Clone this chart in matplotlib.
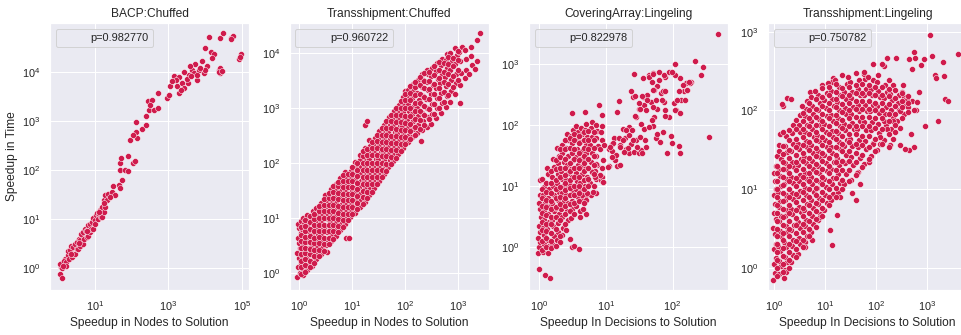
import numpy as np
import matplotlib
matplotlib.use("Agg")
import matplotlib.pyplot as plt
import seaborn as sns
from matplotlib.lines import Line2D
from matplotlib.ticker import FixedLocator

# ---- data (log10 of the speedups) ----
titles = ["BACP:Chuffed", "Transshipment:Chuffed",
          "CoveringArray:Lingeling", "Transshipment:Lingeling"]
xlabels = ["Speedup in Nodes to Solution", "Speedup in Nodes to Solution",
           "Speedup In Decisions to Solution", "Speedup In Decisions to Solution"]
ylabel = "Speedup in Time"
p_labels = ["p=0.982770", "p=0.960722", "p=0.822978", "p=0.750782"]

bacp_chuffed = [
    (0.04, -0.12), (0.09, -0.20), (0.07, 0.03), (0.11, 0.10), (0.05, 0.08), (0.10, 0.00),
    (0.18, 0.20), (0.15, 0.15), (0.22, 0.13), (0.20, 0.05), (0.27, 0.27), (0.25, 0.35),
    (0.32, 0.37), (0.30, 0.20), (0.36, 0.23), (0.35, 0.45), (0.41, 0.43), (0.40, 0.30),
    (0.45, 0.30), (0.45, 0.50), (0.50, 0.54), (0.50, 0.40), (0.54, 0.40), (0.55, 0.60),
    (0.59, 0.57), (0.60, 0.45), (0.64, 0.67), (0.62, 0.70), (0.68, 0.50), (0.68, 0.74),
    (0.70, 0.60), (0.73, 0.81), (0.75, 0.75), (0.77, 0.64), (0.80, 0.65), (0.82, 0.88),
    (0.85, 0.90), (0.86, 0.74), (0.90, 0.80), (0.91, 0.95), (0.95, 0.81), (0.95, 1.02),
    (1.00, 0.98), (1.00, 0.90), (1.02, 1.08), (1.05, 1.12), (1.09, 1.01), (1.10, 1.10),
    (1.14, 1.18), (1.15, 1.05), (1.18, 1.05), (1.20, 1.25), (1.23, 1.15), (1.27, 1.25),
    (1.23, 1.39), (1.27, 1.49), (1.32, 1.39), (1.36, 1.52), (1.46, 1.56), (1.55, 1.49),
    (1.48, 1.67), (1.64, 1.69), (1.68, 1.63), (1.73, 1.80), (1.68, 2.00), (1.82, 2.00),
    (1.91, 1.97), (1.68, 2.15), (1.71, 2.24), (1.89, 2.29), (2.03, 2.15), (2.10, 2.19),
    (1.96, 2.61), (2.15, 2.65), (2.12, 2.78), (2.03, 2.71), (2.12, 2.97), (2.27, 2.83),
    (2.38, 2.92), (2.40, 3.09), (2.44, 3.41), (2.55, 3.43), (2.46, 3.22), (2.60, 3.22),
    (2.73, 3.26), (2.72, 3.56), (2.51, 3.33), (2.95, 3.46), (3.01, 3.53), (3.05, 3.70),
    (3.15, 3.92), (3.28, 3.90), (3.24, 3.70), (3.38, 3.77), (3.28, 3.56), (3.42, 3.67),
    (3.56, 3.94), (3.65, 4.04), (3.74, 4.16), (3.79, 3.84), (3.92, 4.21), (3.96, 3.97),
    (4.01, 4.48), (4.06, 4.11), (4.15, 4.41), (4.24, 4.35), (4.20, 4.28), (4.10, 4.71),
    (4.38, 4.04), (4.42, 4.07), (4.40, 3.97), (4.42, 4.69), (4.50, 4.78), (4.70, 4.69),
    (4.77, 4.73), (4.93, 4.26), (4.97, 4.35), (3.69, 3.97), (3.60, 4.11), (3.83, 4.04),
    (3.53, 3.77), (3.79, 3.94), (4.01, 4.04), (3.35, 3.63), (3.22, 3.84), (3.09, 3.82),
    (3.42, 4.00), (4.38, 4.00), (4.45, 4.02), (4.95, 4.30), (4.72, 4.66), (3.50, 3.85),
    (3.62, 3.92), (3.87, 4.08), (0.13, 0.05), (0.33, 0.30), (0.57, 0.52), (0.79, 0.75),
    (1.12, 1.15), (1.25, 1.32), (1.40, 1.45),
]

transship_chuffed = [
    (-0.03, -0.08), (0.02, 0.00), (-0.02, 0.10), (0.03, 0.18), (0.00, 0.27), (-0.03, 0.36),
    (0.02, 0.45), (0.00, 0.55), (-0.02, 0.64), (0.03, 0.72), (0.00, 0.82), (-0.02, 0.90), (0.04, 0.95),
    (0.08, -0.03), (0.07, 0.08), (0.10, 0.17), (0.06, 0.30), (0.09, 0.40), (0.07, 0.50),
    (0.10, 0.60), (0.08, 0.70), (0.06, 0.80), (0.10, 0.90), (0.08, 1.00),
    (0.15, 0.05), (0.17, 0.15), (0.16, 0.25), (0.14, 0.35), (0.18, 0.46), (0.16, 0.56),
    (0.15, 0.66), (0.17, 0.77), (0.16, 0.88), (0.18, 0.98), (0.15, 1.06),
    (0.24, 0.12), (0.26, 0.24), (0.25, 0.36), (0.23, 0.47), (0.27, 0.58), (0.24, 0.69),
    (0.26, 0.80), (0.25, 0.92), (0.23, 1.02), (0.27, 1.12),
    (0.33, 0.25), (0.35, 0.36), (0.34, 0.48), (0.32, 0.60), (0.36, 0.71), (0.33, 0.82),
    (0.35, 0.94), (0.34, 1.05), (0.33, 1.18),
    (0.42, 0.34), (0.44, 0.46), (0.43, 0.58), (0.41, 0.70), (0.45, 0.82), (0.42, 0.93),
    (0.44, 1.05), (0.43, 1.17), (0.42, 1.28),
    (0.53, 0.39), (0.51, 0.50), (0.53, 0.62), (0.52, 0.74), (0.50, 0.86), (0.54, 0.98),
    (0.52, 1.10), (0.51, 1.22), (0.53, 1.33), (0.50, 1.42),
    (0.60, 0.58), (0.62, 0.70), (0.61, 0.82), (0.59, 0.94), (0.63, 1.06), (0.60, 1.18),
    (0.62, 1.30), (0.61, 1.42), (0.60, 1.52),
    (0.69, 0.68), (0.71, 0.80), (0.70, 0.92), (0.68, 1.04), (0.72, 1.16), (0.69, 1.28),
    (0.71, 1.40), (0.70, 1.52), (0.69, 1.62),
    (0.78, 0.78), (0.80, 0.90), (0.79, 1.02), (0.77, 1.14), (0.81, 1.26), (0.78, 1.38),
    (0.80, 1.50), (0.79, 1.62), (0.78, 1.72),
    (0.88, 0.63), (0.95, 0.64), (0.87, 0.90), (0.89, 1.02), (0.88, 1.14), (0.86, 1.26),
    (0.90, 1.38), (0.87, 1.50), (0.89, 1.62), (0.88, 1.74), (0.87, 1.84),
    (0.97, 1.02), (0.99, 1.14), (0.98, 1.26), (0.96, 1.38), (1.00, 1.50), (0.97, 1.62),
    (0.99, 1.74), (0.98, 1.86),
    (1.06, 1.10), (1.08, 1.22), (1.07, 1.34), (1.05, 1.46), (1.09, 1.58), (1.06, 1.70),
    (1.08, 1.82), (1.07, 1.95), (1.05, 2.02),
    (1.15, 1.20), (1.17, 1.32), (1.16, 1.44), (1.14, 1.56), (1.18, 1.68), (1.15, 1.80),
    (1.17, 1.92), (1.16, 2.05), (1.15, 2.14),
    (1.25, 2.69), (1.28, 2.76), (1.24, 1.30), (1.26, 1.42), (1.25, 1.55), (1.23, 1.68),
    (1.27, 1.81), (1.24, 1.94), (1.26, 2.07), (1.25, 2.20), (1.24, 2.28),
    (1.33, 1.42), (1.35, 1.55), (1.34, 1.68), (1.32, 1.81), (1.36, 1.94), (1.33, 2.07),
    (1.35, 2.20), (1.34, 2.32), (1.33, 2.42),
    (1.42, 1.55), (1.44, 1.68), (1.43, 1.81), (1.41, 1.94), (1.45, 2.07), (1.42, 2.20),
    (1.44, 2.33), (1.43, 2.46),
    (1.51, 1.68), (1.53, 1.81), (1.52, 1.94), (1.50, 2.07), (1.54, 2.20), (1.51, 2.33),
    (1.53, 2.46), (1.52, 2.58),
    (1.60, 1.80), (1.62, 1.93), (1.61, 2.06), (1.59, 2.19), (1.63, 2.32), (1.60, 2.45),
    (1.62, 2.58), (1.61, 2.70),
    (1.69, 1.92), (1.71, 2.05), (1.70, 2.18), (1.68, 2.31), (1.72, 2.44), (1.69, 2.57),
    (1.71, 2.70), (1.70, 2.83),
    (1.78, 2.04), (1.80, 2.17), (1.79, 2.30), (1.77, 2.43), (1.81, 2.56), (1.78, 2.69),
    (1.80, 2.82), (1.79, 2.95),
    (1.87, 2.16), (1.89, 2.29), (1.88, 2.42), (1.86, 2.55), (1.90, 2.68), (1.87, 2.81),
    (1.89, 2.94), (1.88, 3.06),
    (1.96, 2.28), (1.98, 2.41), (1.97, 2.54), (1.95, 2.67), (1.99, 2.80), (1.96, 2.93),
    (1.98, 3.06), (1.97, 3.20), (2.00, 3.32),
    (2.05, 2.38), (2.07, 2.52), (2.06, 2.66), (2.04, 2.80), (2.08, 2.94), (2.05, 3.08),
    (2.07, 3.22), (2.06, 3.33),
    (2.14, 2.47), (2.16, 2.62), (2.15, 2.76), (2.13, 2.90), (2.17, 3.04), (2.14, 3.18),
    (2.16, 3.32), (2.15, 3.44),
    (2.23, 2.55), (2.25, 2.70), (2.24, 2.85), (2.22, 3.00), (2.26, 3.14), (2.23, 3.28),
    (2.25, 3.42), (2.24, 3.52),
    (2.30, 2.40), (2.32, 2.60), (2.34, 2.76), (2.33, 2.92), (2.31, 3.08), (2.35, 3.23),
    (2.32, 3.38), (2.34, 3.52), (2.33, 3.62),
    (2.41, 2.66), (2.43, 2.83), (2.42, 3.00), (2.40, 3.17), (2.44, 3.33), (2.41, 3.48),
    (2.43, 3.62), (2.42, 3.70),
    (2.50, 2.72), (2.52, 2.90), (2.51, 3.08), (2.49, 3.26), (2.53, 3.43), (2.50, 3.58), (2.52, 3.73),
    (2.59, 2.82), (2.61, 3.00), (2.60, 3.18), (2.58, 3.36), (2.62, 3.53), (2.59, 3.68), (2.61, 3.82),
    (2.68, 2.92), (2.70, 3.10), (2.69, 3.28), (2.67, 3.46), (2.71, 3.62), (2.68, 3.78), (2.70, 3.90),
    (2.77, 3.02), (2.79, 3.22), (2.78, 3.40), (2.76, 3.57), (2.80, 3.73), (2.77, 3.88), (2.79, 3.98),
    (2.86, 3.12), (2.88, 3.32), (2.87, 3.52), (2.85, 3.70), (2.89, 3.86), (2.86, 4.00),
    (2.95, 3.25), (2.97, 3.45), (2.96, 3.62), (2.94, 3.80), (2.98, 3.96), (2.95, 4.10),
    (3.05, 3.10), (3.04, 3.42), (3.06, 3.64), (3.05, 3.85), (3.03, 4.02), (3.07, 4.12),
    (3.14, 3.55), (3.16, 3.70), (3.15, 3.90), (3.13, 4.05),
    (3.22, 3.62), (3.26, 3.78), (3.25, 3.95), (3.24, 4.12),
    (3.32, 3.72), (3.37, 4.24), (3.42, 4.36), (3.36, 3.85),
]

# extra points of the dense band, grouped by column: (log10 x, [log10 y, ...])
transship_chuffed_fill = [
    (0.04, [-0.02, 0.10, 0.22, 0.34, 0.46, 0.58, 0.70, 0.84]),
    (0.12, [0.02, 0.14, 0.26, 0.36, 0.46, 0.56, 0.66, 0.76, 0.86, 0.96]),
    (0.20, [0.10, 0.22, 0.34, 0.44, 0.56, 0.68, 0.80, 0.92, 1.04]),
    (0.29, [0.18, 0.30, 0.42, 0.54, 0.64, 0.76, 0.88, 0.98, 1.08]),
    (0.38, [0.30, 0.42, 0.54, 0.66, 0.76, 0.88, 1.00, 1.12, 1.22]),
    (0.47, [0.40, 0.52, 0.64, 0.76, 0.88, 1.00, 1.12, 1.24, 1.34]),
    (0.56, [0.52, 0.64, 0.76, 0.88, 1.00, 1.12, 1.24, 1.36, 1.46]),
    (0.65, [0.62, 0.76, 0.88, 1.00, 1.12, 1.24, 1.36, 1.48, 1.58]),
    (0.74, [0.74, 0.86, 0.98, 1.10, 1.22, 1.34, 1.46, 1.58, 1.66]),
    (0.83, [0.84, 0.96, 1.08, 1.20, 1.32, 1.44, 1.56, 1.68, 1.78]),
    (0.92, [0.96, 1.08, 1.20, 1.32, 1.44, 1.56, 1.68, 1.80]),
    (1.01, [1.08, 1.20, 1.32, 1.44, 1.56, 1.68, 1.80, 1.92]),
    (1.10, [1.16, 1.28, 1.40, 1.52, 1.64, 1.76, 1.88, 2.00]),
    (1.20, [1.26, 1.38, 1.50, 1.62, 1.75, 1.88, 2.00, 2.12, 2.22]),
    (1.29, [1.36, 1.48, 1.62, 1.75, 1.88, 2.00, 2.14, 2.26]),
    (1.38, [1.48, 1.62, 1.75, 1.88, 2.01, 2.14, 2.27, 2.38]),
    (1.47, [1.62, 1.75, 1.88, 2.01, 2.14, 2.27, 2.40, 2.52]),
    (1.56, [1.74, 1.87, 2.00, 2.13, 2.26, 2.39, 2.52, 2.64]),
    (1.65, [1.86, 1.99, 2.12, 2.25, 2.38, 2.51, 2.64, 2.76]),
    (1.74, [1.98, 2.11, 2.24, 2.37, 2.50, 2.63, 2.76, 2.88]),
    (1.83, [2.10, 2.23, 2.36, 2.49, 2.62, 2.75, 2.88, 3.00]),
    (1.92, [2.22, 2.35, 2.48, 2.61, 2.74, 2.87, 3.00, 3.13]),
    (2.01, [2.34, 2.47, 2.60, 2.73, 2.86, 3.00, 3.14, 3.26]),
    (2.10, [2.44, 2.58, 2.72, 2.86, 3.00, 3.14, 3.28, 3.40]),
    (2.19, [2.52, 2.66, 2.80, 2.95, 3.10, 3.24, 3.38, 3.48]),
    (2.28, [2.62, 2.78, 2.94, 3.10, 3.26, 3.42, 3.56]),
    (2.37, [2.70, 2.88, 3.04, 3.20, 3.36, 3.50, 3.64]),
    (2.46, [2.80, 2.98, 3.16, 3.34, 3.50, 3.66]),
    (2.55, [2.90, 3.08, 3.26, 3.44, 3.60, 3.76]),
    (2.64, [3.00, 3.18, 3.36, 3.54, 3.70, 3.84]),
    (2.73, [3.12, 3.30, 3.48, 3.66, 3.82]),
    (2.82, [3.24, 3.44, 3.62, 3.80, 3.94]),
    (2.91, [3.38, 3.58, 3.76, 3.92]),
    (3.00, [3.52, 3.70, 3.88, 4.04]),
]

covering_lingeling = [
    (0.00, -0.35), (0.09, -0.46), (0.16, -0.50),
    (-0.02, -0.10), (0.00, 0.00), (0.02, 0.08), (-0.01, 0.15), (0.01, 0.25), (0.00, 0.35),
    (0.03, 0.50), (0.01, 0.62), (0.00, 0.73), (0.02, 0.85), (0.01, 1.10), (0.04, 1.12),
    (0.06, -0.08), (0.08, 0.05), (0.07, 0.20), (0.06, 0.32), (0.08, 0.45), (0.07, 0.60),
    (0.09, 0.72), (0.06, 0.85), (0.08, 0.98),
    (0.13, -0.10), (0.15, 0.02), (0.14, 0.12), (0.12, 0.30), (0.15, 0.42), (0.14, 0.55),
    (0.16, 0.68), (0.13, 0.80), (0.15, 0.95), (0.14, 1.20), (0.12, 1.30),
    (0.20, 0.05), (0.22, 0.18), (0.21, 0.35), (0.19, 0.45), (0.23, 0.60), (0.20, 0.72),
    (0.22, 0.85), (0.21, 1.00), (0.20, 1.15), (0.22, 1.32), (0.21, 1.45),
    (0.27, 0.12), (0.29, 0.25), (0.28, 0.40), (0.30, 0.55), (0.26, 0.65), (0.28, 0.78),
    (0.30, 0.90), (0.27, 1.05), (0.29, 1.20), (0.28, 1.38), (0.30, 1.50), (0.27, 1.62),
    (0.34, 0.20), (0.36, 0.32), (0.35, 0.50), (0.33, 0.62), (0.37, 0.75), (0.34, 0.88),
    (0.36, 1.00), (0.35, 1.12), (0.33, 1.25), (0.37, 1.40), (0.35, 1.55), (0.34, 1.68),
    (0.41, 0.28), (0.43, 0.45), (0.42, 0.60), (0.44, 0.72), (0.40, 0.85), (0.43, 0.98),
    (0.41, 1.10), (0.44, 1.22), (0.42, 1.35), (0.43, 1.50), (0.41, 1.62), (0.44, 1.75), (0.42, 1.86),
    (0.49, 0.00), (0.52, 0.02), (0.48, 0.48), (0.50, 0.62), (0.49, 0.75), (0.51, 0.90),
    (0.47, 1.02), (0.50, 1.15), (0.48, 1.28), (0.51, 1.42), (0.49, 1.55), (0.50, 1.70),
    (0.48, 1.82), (0.51, 1.92),
    (0.56, 0.68), (0.58, 0.82), (0.55, 0.95), (0.57, 1.08), (0.56, 1.22), (0.58, 1.35),
    (0.55, 1.48), (0.57, 1.60), (0.56, 1.75), (0.58, 1.88), (0.55, 1.98),
    (0.62, 0.60), (0.64, 0.78), (0.63, 0.92), (0.62, 1.05), (0.65, 1.20), (0.63, 1.32),
    (0.61, 1.45), (0.64, 1.58), (0.62, 1.72), (0.65, 1.85), (0.63, 1.95),
    (0.70, 0.55), (0.71, 0.85), (0.69, 1.00), (0.72, 1.15), (0.70, 1.30), (0.68, 1.42),
    (0.71, 1.55), (0.70, 1.68), (0.72, 1.80), (0.69, 1.92), (0.71, 2.02),
    (0.78, 0.85), (0.77, 1.05), (0.79, 1.25), (0.78, 1.40), (0.80, 1.55), (0.77, 1.68),
    (0.79, 1.80), (0.78, 1.95), (0.80, 2.05),
    (0.86, 0.88), (0.85, 1.12), (0.87, 1.35), (0.86, 1.50), (0.88, 1.65), (0.85, 1.78),
    (0.87, 1.90), (0.86, 2.00),
    (0.93, 1.10), (0.95, 1.30), (0.92, 1.60), (0.94, 1.75), (0.93, 1.88), (0.95, 1.98),
    (0.60, -0.03), (0.62, 0.50), (0.46, 0.14), (0.32, 0.09), (0.65, 0.85), (0.72, 0.89),
    (0.81, 0.91), (0.84, 1.24), (0.94, 1.15), (0.96, 1.07), (1.05, 1.33), (1.14, 1.43),
    (1.17, 1.33), (1.22, 1.34), (1.35, 1.54), (1.42, 1.56), (1.50, 1.55), (1.91, 1.55),
    (0.49, 2.19), (0.69, 2.22), (0.90, 2.33), (0.95, 2.16), (1.17, 2.22), (1.20, 2.40),
    (1.42, 2.84), (0.98, 1.67), (1.05, 1.61), (1.10, 1.58), (1.10, 1.69), (1.12, 1.78),
    (1.20, 1.78), (1.29, 1.78), (1.26, 1.94), (1.35, 1.96), (1.35, 1.83), (1.37, 1.69),
    (1.30, 1.61), (1.22, 1.67), (1.45, 1.75), (1.52, 1.59), (1.60, 1.64), (1.45, 2.13),
    (1.52, 2.02), (1.57, 1.94), (1.37, 2.55), (1.40, 2.46), (1.50, 2.27), (1.55, 2.46),
    (1.57, 2.33), (1.50, 2.36), (1.60, 2.24), (1.62, 2.49), (1.67, 2.38), (1.75, 2.41),
    (1.87, 2.38), (1.76, 2.27), (1.89, 2.24), (1.72, 2.13), (1.71, 1.99), (1.95, 2.13),
    (2.02, 2.36), (2.05, 2.24), (2.12, 2.41), (2.17, 2.55), (2.22, 2.57), (2.27, 2.71),
    (2.20, 2.68), (2.10, 2.55), (1.97, 1.82), (1.75, 1.78), (2.54, 1.81), (2.11, 1.54),
    (2.10, 1.66), (1.99, 1.70), (1.81, 1.73), (1.76, 1.86), (1.86, 1.89), (1.64, 1.97),
    (1.69, 2.08), (1.89, 2.14), (2.03, 2.25), (2.11, 2.19), (2.06, 2.41), (2.19, 2.41),
    (2.21, 2.57), (2.26, 2.68), (2.16, 2.66), (2.24, 2.71), (2.11, 2.77), (2.04, 2.82),
    (1.89, 2.79), (1.64, 2.82), (1.71, 2.85), (1.56, 2.77), (1.54, 2.47), (1.44, 2.47),
    (1.51, 2.27), (1.65, 2.78), (1.70, 2.84), (1.80, 2.87), (1.87, 2.82), (1.95, 2.86),
    (1.99, 2.87), (2.04, 3.00), (1.77, 2.64), (1.82, 2.52), (1.72, 2.57), (1.85, 2.55),
    (2.68, 3.49), (2.33, 3.05), (2.46, 2.95), (2.42, 2.82), (1.31, 1.92), (1.26, 1.75),
    (1.21, 1.64), (1.11, 1.70), (1.16, 1.51), (1.06, 1.64), (1.09, 1.48), (1.04, 1.32),
    (0.96, 1.43), (1.41, 1.75), (1.46, 1.64), (1.54, 1.54), (1.33, 1.62), (1.59, 1.75),
    (1.28, 1.56), (0.91, 1.18), (0.96, 1.07), (0.71, 0.77), (0.66, 0.63), (0.84, 1.15),
    (0.86, 1.37), (0.79, 1.23), (1.39, 1.92), (1.51, 1.81), (1.44, 2.14), (1.61, 2.41),
    (1.71, 2.30), (1.69, 2.71), (1.79, 2.74), (1.89, 2.55), (1.84, 2.41), (1.71, 2.57),
]

covering_lingeling_fill = [
    (0.04, [-0.05, 0.10, 0.28, 0.42, 0.56, 0.68, 0.80, 0.95]),
    (0.10, [0.00, 0.15, 0.27, 0.38, 0.52, 0.66, 0.78, 0.90, 1.05]),
    (0.18, [-0.02, 0.10, 0.24, 0.38, 0.50, 0.62, 0.75, 0.88, 1.05, 1.25]),
    (0.25, [0.02, 0.30, 0.50, 0.66, 0.80, 0.95, 1.10, 1.28, 1.42]),
    (0.32, [0.18, 0.45, 0.70, 0.83, 0.98, 1.15, 1.30, 1.48, 1.60]),
    (0.39, [0.38, 0.55, 0.68, 0.80, 0.93, 1.05, 1.18, 1.30, 1.45, 1.60, 1.75]),
    (0.46, [0.60, 0.70, 0.85, 0.97, 1.10, 1.25, 1.38, 1.62, 1.78]),
    (0.53, [0.55, 0.72, 0.85, 1.00, 1.15, 1.30, 1.45, 1.60, 1.75, 1.85]),
    (0.60, [0.75, 0.88, 1.00, 1.15, 1.30, 1.42, 1.55, 1.70, 1.82]),
    (0.67, [0.72, 0.95, 1.10, 1.25, 1.38, 1.50, 1.62, 1.75, 1.88]),
    (0.74, [1.00, 1.12, 1.30, 1.45, 1.60, 1.75, 1.90]),
    (0.82, [1.00, 1.20, 1.35, 1.50, 1.62, 1.75, 1.88]),
]

transship_lingeling = [
    (-0.02, -0.15), (0.02, -0.06), (0.00, 0.05), (0.04, 0.13), (-0.01, 0.24), (0.03, 0.31),
    (0.01, 0.43), (-0.02, 0.51), (0.03, 0.62), (0.00, 0.70), (0.02, 0.81), (-0.01, 0.92),
    (0.04, 1.00), (0.01, 1.11), (0.00, 1.21), (0.03, 1.30), (0.05, 1.42),
    (0.09, -0.08), (0.13, 0.03), (0.10, 0.09), (0.12, 0.21), (0.08, 0.28), (0.14, 0.40),
    (0.11, 0.47), (0.09, 0.59), (0.13, 0.66), (0.10, 0.78), (0.12, 0.85), (0.08, 0.97),
    (0.14, 1.04), (0.11, 1.17), (0.09, 1.25), (0.13, 1.38), (0.10, 1.49),
    (0.21, -0.03), (0.25, 0.07), (0.22, 0.14), (0.24, 0.26), (0.20, 0.33), (0.26, 0.46),
    (0.23, 0.53), (0.21, 0.66), (0.25, 0.73), (0.22, 0.86), (0.24, 0.93), (0.20, 1.06),
    (0.26, 1.13), (0.23, 1.26), (0.21, 1.33), (0.25, 1.47), (0.22, 1.55), (0.24, 1.68),
    (0.34, 0.08), (0.38, 0.16), (0.35, 0.28), (0.37, 0.35), (0.33, 0.48), (0.39, 0.55),
    (0.36, 0.68), (0.34, 0.75), (0.38, 0.88), (0.35, 0.95), (0.37, 1.08), (0.33, 1.15),
    (0.39, 1.28), (0.36, 1.35), (0.34, 1.49), (0.38, 1.57), (0.35, 1.71), (0.37, 1.82),
    (0.47, 0.18), (0.51, 0.31), (0.48, 0.38), (0.50, 0.51), (0.46, 0.58), (0.52, 0.71),
    (0.49, 0.78), (0.47, 0.91), (0.51, 0.98), (0.48, 1.11), (0.50, 1.18), (0.46, 1.31),
    (0.52, 1.38), (0.49, 1.51), (0.47, 1.58), (0.51, 1.72), (0.48, 1.81), (0.50, 1.94),
    (0.60, 0.33), (0.64, 0.41), (0.61, 0.53), (0.63, 0.61), (0.59, 0.73), (0.65, 0.81),
    (0.62, 0.93), (0.60, 1.01), (0.64, 1.13), (0.61, 1.21), (0.63, 1.33), (0.59, 1.41),
    (0.65, 1.53), (0.62, 1.61), (0.60, 1.73), (0.64, 1.81), (0.61, 1.93), (0.63, 2.02),
    (0.73, 0.46), (0.77, 0.56), (0.74, 0.66), (0.76, 0.76), (0.72, 0.86), (0.78, 0.96),
    (0.75, 1.06), (0.73, 1.16), (0.77, 1.26), (0.74, 1.36), (0.76, 1.46), (0.72, 1.56),
    (0.78, 1.66), (0.75, 1.76), (0.73, 1.86), (0.77, 1.96), (0.74, 2.06),
    (0.86, 0.61), (0.90, 0.69), (0.87, 0.81), (0.89, 0.89), (0.85, 1.01), (0.91, 1.09),
    (0.88, 1.21), (0.86, 1.29), (0.90, 1.41), (0.87, 1.49), (0.89, 1.61), (0.85, 1.69),
    (0.91, 1.81), (0.88, 1.89), (0.86, 2.01), (0.90, 2.09), (0.87, 2.20),
    (0.99, 0.73), (1.03, 0.83), (1.00, 0.93), (1.02, 1.03), (0.98, 1.13), (1.04, 1.23),
    (1.01, 1.33), (0.99, 1.43), (1.03, 1.53), (1.00, 1.63), (1.02, 1.73), (0.98, 1.83),
    (1.04, 1.93), (1.01, 2.03), (0.99, 2.13), (1.03, 2.22),
    (1.12, 0.86), (1.16, 0.94), (1.13, 1.06), (1.15, 1.14), (1.11, 1.26), (1.17, 1.34),
    (1.14, 1.46), (1.12, 1.54), (1.16, 1.66), (1.13, 1.74), (1.15, 1.86), (1.11, 1.94),
    (1.17, 2.06), (1.14, 2.14), (1.12, 2.25),
    (1.25, 0.96), (1.29, 1.08), (1.26, 1.19), (1.28, 1.31), (1.24, 1.40), (1.30, 1.51),
    (1.27, 1.60), (1.25, 1.71), (1.29, 1.80), (1.26, 1.91), (1.28, 2.00), (1.24, 2.11),
    (1.30, 2.20), (1.27, 2.30),
    (1.38, 1.06), (1.42, 1.19), (1.39, 1.33), (1.41, 1.43), (1.37, 1.55), (1.43, 1.63),
    (1.40, 1.75), (1.38, 1.83), (1.42, 1.95), (1.39, 2.03), (1.41, 2.15), (1.37, 2.23), (1.43, 2.33),
    (1.51, 1.12), (1.55, 1.31), (1.52, 1.41), (1.54, 1.55), (1.50, 1.64), (1.56, 1.76),
    (1.53, 1.84), (1.51, 1.96), (1.55, 2.04), (1.52, 2.16), (1.54, 2.24), (1.50, 2.36),
    (1.64, 1.22), (1.68, 1.39), (1.65, 1.53), (1.67, 1.63), (1.63, 1.77), (1.69, 1.87),
    (1.66, 1.99), (1.64, 2.07), (1.68, 2.19), (1.65, 2.27), (1.67, 2.38),
    (1.77, 1.32), (1.81, 1.51), (1.78, 1.61), (1.80, 1.75), (1.76, 1.85), (1.82, 1.99),
    (1.79, 2.07), (1.77, 2.19), (1.81, 2.27), (1.78, 2.40),
    (1.90, 1.42), (1.94, 1.59), (1.91, 1.75), (1.93, 1.85), (1.89, 1.99), (1.95, 2.07),
    (1.92, 2.19), (1.90, 2.27), (1.94, 2.38),
    (2.03, 1.50), (2.07, 1.71), (2.04, 1.83), (2.06, 1.97), (2.02, 2.05), (2.08, 2.17),
    (2.05, 2.25), (2.03, 2.36),
    (2.16, 1.62), (2.20, 1.81), (2.17, 1.96), (2.19, 2.04), (2.15, 2.16), (2.21, 2.24), (2.18, 2.32),
    (2.29, 1.76), (2.33, 1.91), (2.30, 2.01), (2.32, 2.13), (2.28, 2.21),
    (2.42, 1.86), (2.46, 2.01), (2.43, 2.09), (2.45, 2.19),
    (2.55, 1.96), (2.59, 2.07), (2.56, 2.17),
    (3.06, 2.96), (3.62, 2.72), (2.74, 2.74), (2.76, 2.67), (2.94, 2.65), (2.89, 2.58),
    (2.66, 2.65), (2.70, 2.53), (3.10, 2.69), (3.31, 2.62), (3.33, 2.44), (3.35, 2.15),
    (3.41, 2.12), (3.23, 1.86), (2.97, 1.80), (3.17, 2.45), (3.19, 2.41), (2.40, 2.67),
    (2.15, 2.57), (1.95, 2.59), (1.77, 2.46), (1.34, 2.45), (1.16, 2.41), (1.13, 2.36),
    (0.70, 2.24), (0.72, 2.17), (0.26, 2.16), (0.17, 2.06), (0.15, 2.08), (0.34, 2.15),
    (1.60, 2.47), (1.84, 2.42), (2.05, 2.45), (2.25, 2.38), (2.33, 2.32), (2.54, 2.32),
    (2.51, 2.23), (2.84, 2.23), (2.58, 2.13), (2.71, 2.12), (2.78, 2.00), (2.64, 2.04),
    (2.48, 1.99), (2.33, 1.87), (2.38, 1.72), (2.33, 1.64), (2.48, 1.78), (2.68, 1.70),
    (2.74, 1.54), (2.66, 1.50), (2.15, 1.87), (2.22, 1.76), (2.08, 1.66), (1.95, 1.58),
    (2.28, 1.56), (2.58, 1.51), (2.48, 1.56), (2.25, 1.54), (2.09, 1.58), (1.86, 1.35),
    (1.63, 1.20), (1.69, 1.07), (1.53, 0.95), (1.60, 0.86), (1.30, 0.90), (1.23, 0.67),
    (1.10, 0.48), (1.13, 0.29), (0.74, 0.35), (0.90, 0.65), (0.61, 0.27), (0.19, -0.13),
    (0.24, -0.05), (0.11, 1.70), (0.18, 1.73), (0.10, 1.56), (0.55, 2.05), (0.65, 2.12),
    (0.80, 2.25), (0.95, 2.32), (1.05, 2.35), (1.20, 2.38), (1.45, 2.42), (2.62, 2.13),
    (2.81, 2.11), (2.75, 2.00), (2.12, 2.59), (2.22, 2.67), (1.76, 2.49),
]

transship_lingeling_fill = [
    (0.06, [-0.10, 0.00, 0.10, 0.20, 0.30, 0.40, 0.50, 0.60, 0.70, 0.80, 0.90, 1.00, 1.10, 1.20, 1.30]),
    (0.17, [-0.05, 0.05, 0.15, 0.25, 0.35, 0.45, 0.55, 0.65, 0.75, 0.85, 0.95, 1.05, 1.15, 1.25,
            1.35, 1.45, 1.55]),
    (0.30, [0.00, 0.10, 0.20, 0.30, 0.40, 0.50, 0.60, 0.70, 0.80, 0.90, 1.00, 1.10, 1.20, 1.30,
            1.40, 1.50, 1.62, 1.75]),
    (0.43, [0.14, 0.24, 0.34, 0.44, 0.54, 0.64, 0.74, 0.84, 0.94, 1.04, 1.14, 1.24, 1.34, 1.44,
            1.54, 1.64, 1.76, 1.88]),
    (0.56, [0.26, 0.36, 0.46, 0.56, 0.66, 0.76, 0.86, 0.96, 1.06, 1.16, 1.26, 1.36, 1.46, 1.56,
            1.66, 1.76, 1.86, 1.97]),
    (0.69, [0.40, 0.50, 0.60, 0.70, 0.80, 0.90, 1.00, 1.10, 1.20, 1.30, 1.40, 1.50, 1.60, 1.70,
            1.80, 1.90, 2.00, 2.10]),
    (0.82, [0.52, 0.62, 0.72, 0.82, 0.92, 1.02, 1.12, 1.22, 1.32, 1.42, 1.52, 1.62, 1.72, 1.82,
            1.92, 2.02, 2.14]),
    (0.95, [0.66, 0.76, 0.86, 0.96, 1.06, 1.16, 1.26, 1.36, 1.46, 1.56, 1.66, 1.76, 1.86, 1.96,
            2.06, 2.17, 2.28]),
    (1.08, [0.80, 0.90, 1.00, 1.10, 1.20, 1.30, 1.40, 1.50, 1.60, 1.70, 1.80, 1.90, 2.00, 2.10,
            2.20, 2.30]),
    (1.21, [0.90, 1.02, 1.14, 1.24, 1.34, 1.44, 1.54, 1.64, 1.74, 1.84, 1.94, 2.04, 2.14, 2.24, 2.34]),
    (1.34, [1.00, 1.12, 1.24, 1.36, 1.48, 1.58, 1.68, 1.78, 1.88, 1.98, 2.08, 2.18, 2.28]),
    (1.47, [1.10, 1.24, 1.36, 1.48, 1.60, 1.70, 1.80, 1.90, 2.00, 2.10, 2.20, 2.30]),
    (1.60, [1.18, 1.34, 1.46, 1.58, 1.70, 1.80, 1.92, 2.02, 2.12, 2.22, 2.32]),
    (1.73, [1.28, 1.44, 1.56, 1.68, 1.80, 1.92, 2.02, 2.12, 2.22, 2.33]),
    (1.86, [1.38, 1.54, 1.68, 1.80, 1.92, 2.02, 2.12, 2.22, 2.32]),
    (1.99, [1.48, 1.64, 1.78, 1.90, 2.00, 2.10, 2.20, 2.30]),
    (2.12, [1.58, 1.76, 1.90, 2.00, 2.10, 2.20, 2.30]),
    (2.25, [1.70, 1.86, 1.96, 2.08, 2.18, 2.27]),
    (2.38, [1.82, 1.96, 2.06, 2.16, 2.26]),
    (2.51, [1.90, 2.04, 2.12, 2.22]),
    (2.64, [1.98, 2.10, 2.18]),
]

panel_points = [bacp_chuffed, transship_chuffed, covering_lingeling, transship_lingeling]
panel_fill = [[], transship_chuffed_fill, covering_lingeling_fill, transship_lingeling_fill]

# ---- layout (pixels of the 961x335 reference, log10 axis limits) ----
W, H = 961, 335
ax_left_px = [50, 289.5, 529, 768]
ax_width_px, ax_top_px, ax_bottom_px = 199, 23, 290
xlims = [(-0.23, 5.20), (-0.18, 3.58), (-0.15, 2.83), (-0.12, 3.79)]
ylims = [(-0.44, 4.99), (-0.31, 4.55), (-0.70, 3.67), (-0.28, 3.11)]
x_ticks = [[1e1, 1e3, 1e5], None, None, None]
POINT_COLOR = "#cf1b4c"

sns.set_theme(style="darkgrid")
plt.rcParams["font.family"] = ["Liberation Sans", "DejaVu Sans"]

fig = plt.figure(figsize=(W / 72, H / 72), dpi=72)

for i, pts in enumerate(panel_points):
    ax = fig.add_axes([ax_left_px[i] / W, 1 - ax_bottom_px / H,
                       ax_width_px / W, (ax_bottom_px - ax_top_px) / H])
    lx = [p[0] for p in pts] + [cx for cx, ys in panel_fill[i] for _ in ys]
    ly = [p[1] for p in pts] + [y for cx, ys in panel_fill[i] for y in ys]
    sns.scatterplot(x=10 ** np.array(lx), y=10 ** np.array(ly), ax=ax, color=POINT_COLOR)
    ax.set_xscale("log")
    ax.set_yscale("log")
    if x_ticks[i] is not None:
        ax.xaxis.set_major_locator(FixedLocator(x_ticks[i]))
    ax.set_xlim(10 ** xlims[i][0], 10 ** xlims[i][1])
    ax.set_ylim(10 ** ylims[i][0], 10 ** ylims[i][1])
    ax.set_title(titles[i])
    ax.set_xlabel(xlabels[i])
    if i == 0:
        ax.set_ylabel(ylabel)
    ax.legend(handles=[Line2D([], [], linestyle="none")], labels=[p_labels[i]],
              loc="upper left")

fig.savefig("out.png", dpi=72)
